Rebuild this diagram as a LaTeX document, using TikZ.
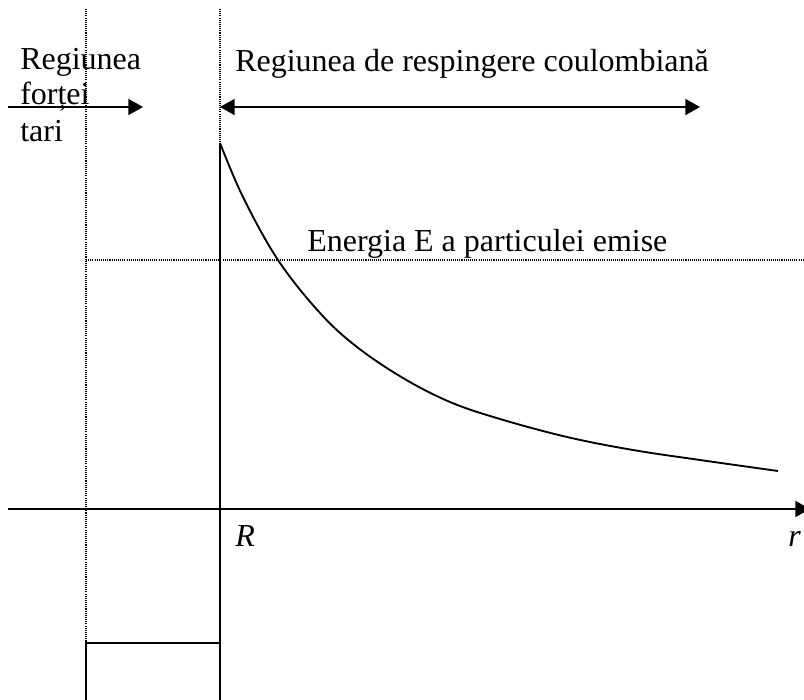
\documentclass[tikz,border=0pt]{standalone}
\usepackage{fontspec}
\setmainfont{Liberation Serif}
\usetikzlibrary{positioning,arrows.meta}
\tikzset{
  ax/.style={line width=1.4pt, draw=black},
  guide/.style={line width=0.8pt, draw=black, dash pattern=on 0.8pt off 0.8pt},
  ar/.style={-{Triangle[length=11pt,width=12pt]}, line width=1.4pt},
  arr/.style={{Triangle[length=11pt,width=12pt]}-{Triangle[length=11pt,width=12pt]}, line width=1.4pt},
  txt/.style={anchor=base west, inner sep=0pt, font=\fontsize{24}{29}\selectfont},
}

\begin{document}
\begin{tikzpicture}[x=0.75pt,y=0.75pt]
  \useasboundingbox (-220,-191) rectangle (584,509);

  % points
  \coordinate (R) at (0,0);
  \coordinate (axL) at (-212,0);
  \coordinate (axR) at (590,0);
  \coordinate (wTop) at (0,500);
  \coordinate (wBot) at (0,-191);
  \coordinate (peak) at (0,366);
  \coordinate (sTop) at (-134,500);
  \coordinate (sBox) at (-134,-134);
  \coordinate (sBot) at (-134,-191);
  \coordinate (eR) at (584,249);
  \coordinate (eL) at (-134,249);
  \coordinate (aL) at (-212,402);
  \coordinate (aM) at (-77,402);
  \coordinate (bL) at (0,402);
  \coordinate (bR) at (480,402);

  % guides
  \draw[guide] (sTop) -- (sBox);
  \draw[guide] (wTop) -- (wBot);
  \draw[guide] (eL) -- (eR);

  % well and barrier
  \draw[ax] (sBot) -- (sBox) -- (R |- sBox);
  \draw[ax] (wBot) -- (peak);
  \draw[ax] plot[smooth, tension=0.6] coordinates {(0,366) (23,312) (58,249) (100,196) (137,162) (183,131) (230,107) (280,90) (347,72) (413,59) (480,49) (558,38)};

  % axis
  \draw[ar] (axL) -- (axR);
  \node[txt, font=\fontsize{24}{29}\selectfont\itshape] (lblR) at (15,-38) {R};
  \node[txt, font=\fontsize{24}{29}\selectfont\itshape] (lblr) at (568,-38) {r};

  % regions
  \draw[ar] (aL) -- (aM);
  \draw[arr] (bL) -- (bR);
  \node[txt] (strong1) at (-200,439) {Regiunea};
  \node[txt] (strong2) at (-200,404) {forței};
  \node[txt] (strong3) at (-200,367) {tari};
  \node[txt] (coul) at (15,437) {Regiunea de respingere coulombiană};
  \node[txt] (energy) at (87,257) {Energia E a particulei emise};
\end{tikzpicture}
\end{document}
